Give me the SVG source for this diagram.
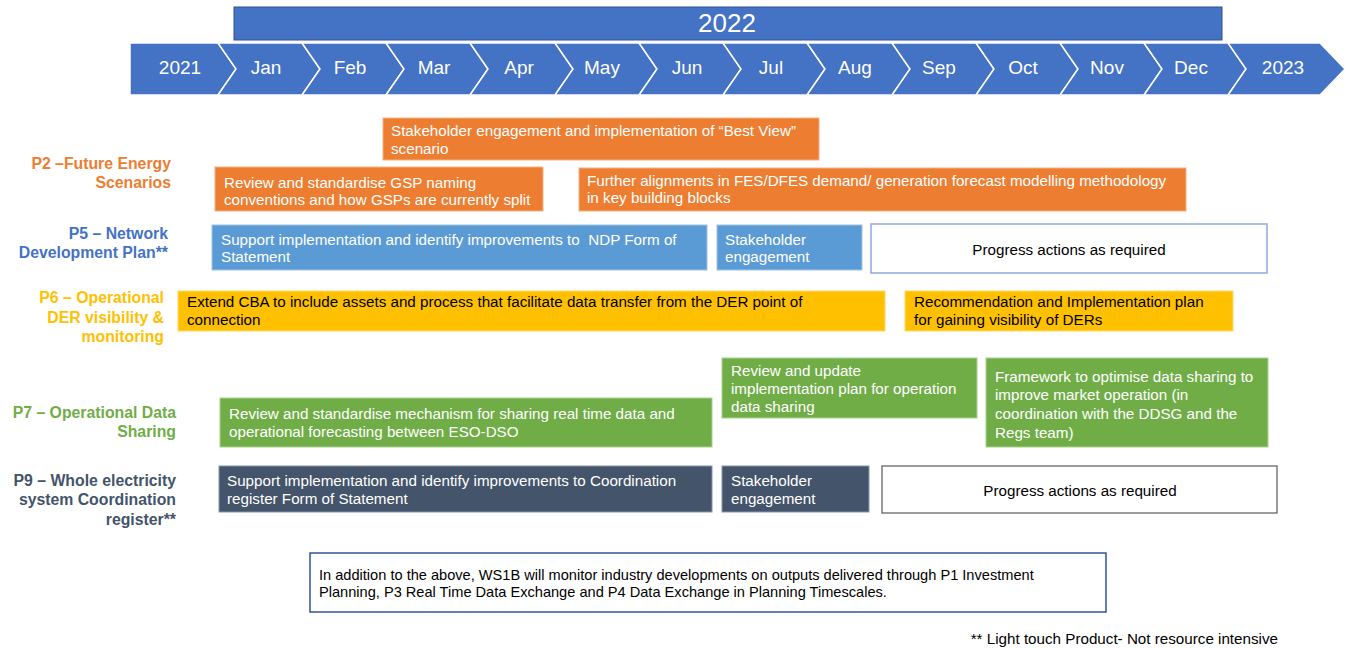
<svg xmlns="http://www.w3.org/2000/svg" width="1345" height="649" viewBox="0 0 1345 649">
<style>
.seg{fill:#4472C4;stroke:#ffffff;stroke-width:1.5}
.mon{font-family:"Liberation Sans",Arial,sans-serif;font-size:19px;fill:#ffffff;text-anchor:middle}
.lbl{font-family:"Liberation Sans",Arial,sans-serif;font-size:15.8px;font-weight:bold;text-anchor:end}
.t{font-family:"Liberation Sans",Arial,sans-serif;font-size:15.2px;fill:#ffffff}
.tk{font-family:"Liberation Sans",Arial,sans-serif;font-size:15.2px;fill:#000000}
.or{fill:#ED7D31;stroke:#F4B183;stroke-width:1}
.bl{fill:#5B9BD5;stroke:#9DC3E6;stroke-width:1}
.gd{fill:#FFC000;stroke:#FFD966;stroke-width:1}
.gr{fill:#70AD47;stroke:#A9D18E;stroke-width:1}
.dk{fill:#44546A;stroke:#8497B0;stroke-width:1}
</style>
<g id="year2022">
<rect x="234" y="7" width="988" height="33" fill="#4472C4" stroke="#2F528F" stroke-width="1"/>
<text x="727" y="32" font-family="Liberation Sans,Arial,sans-serif" font-size="26" fill="#ffffff" text-anchor="middle">2022</text>
</g>
<g id="timeline">
<polygon class="seg" points="130,43 218,43 236,69 218,95 130,95"/>
<polygon class="seg" points="218,43 302,43 320,69 302,95 218,95 236,69"/>
<polygon class="seg" points="302,43 386,43 404,69 386,95 302,95 320,69"/>
<polygon class="seg" points="386,43 470,43 488,69 470,95 386,95 404,69"/>
<polygon class="seg" points="470,43 555,43 573,69 555,95 470,95 488,69"/>
<polygon class="seg" points="555,43 639,43 657,69 639,95 555,95 573,69"/>
<polygon class="seg" points="639,43 723,43 741,69 723,95 639,95 657,69"/>
<polygon class="seg" points="723,43 807,43 825,69 807,95 723,95 741,69"/>
<polygon class="seg" points="807,43 892,43 910,69 892,95 807,95 825,69"/>
<polygon class="seg" points="892,43 976,43 994,69 976,95 892,95 910,69"/>
<polygon class="seg" points="976,43 1060,43 1078,69 1060,95 976,95 994,69"/>
<polygon class="seg" points="1060,43 1144,43 1162,69 1144,95 1060,95 1078,69"/>
<polygon class="seg" points="1144,43 1228,43 1246,69 1228,95 1144,95 1162,69"/>
<polygon class="seg" points="1228,43 1320,43 1345,69 1320,95 1228,95 1246,69"/>
<text class="mon" x="180" y="74">2021</text>
<text class="mon" x="266" y="74">Jan</text>
<text class="mon" x="350" y="74">Feb</text>
<text class="mon" x="434" y="74">Mar</text>
<text class="mon" x="519" y="74">Apr</text>
<text class="mon" x="602" y="74">May</text>
<text class="mon" x="687" y="74">Jun</text>
<text class="mon" x="771" y="74">Jul</text>
<text class="mon" x="855" y="74">Aug</text>
<text class="mon" x="939" y="74">Sep</text>
<text class="mon" x="1023" y="74">Oct</text>
<text class="mon" x="1107" y="74">Nov</text>
<text class="mon" x="1191" y="74">Dec</text>
<text class="mon" x="1283" y="74">2023</text>
</g>
<g id="labels">
<text class="lbl" fill="#ED7D31"><tspan x="171" y="169">P2 –Future Energy</tspan><tspan x="171" y="188">Scenarios</tspan></text>
<text class="lbl" fill="#4472C4"><tspan x="168" y="239">P5 – Network</tspan><tspan x="168" y="258">Development Plan**</tspan></text>
<text class="lbl" fill="#FFC000"><tspan x="164" y="303">P6 – Operational</tspan><tspan x="164" y="323">DER visibility &amp;</tspan><tspan x="164" y="342">monitoring</tspan></text>
<text class="lbl" fill="#70AD47"><tspan x="176" y="418">P7 – Operational Data</tspan><tspan x="176" y="437">Sharing</tspan></text>
<text class="lbl" fill="#44546A"><tspan x="176" y="486">P9 – Whole electricity</tspan><tspan x="176" y="505">system Coordination</tspan><tspan x="176" y="525">register**</tspan></text>
</g>
<g id="p2-best-view">
<rect class="or" x="383" y="118" width="436" height="42"/>
<text class="t"><tspan x="391" y="136">Stakeholder engagement and implementation of “Best View”</tspan><tspan x="391" y="154">scenario</tspan></text>
</g>
<g id="p2-gsp">
<rect class="or" x="215" y="167" width="328" height="44"/>
<text class="t"><tspan x="224" y="188">Review and standardise GSP naming</tspan><tspan x="224" y="205">conventions and how GSPs are currently split</tspan></text>
</g>
<g id="p2-fes">
<rect class="or" x="579" y="168" width="607" height="43"/>
<text class="t"><tspan x="587" y="186">Further alignments in FES/DFES demand/ generation forecast modelling methodology</tspan><tspan x="587" y="203">in key building blocks</tspan></text>
</g>
<g id="p5-ndp">
<rect class="bl" x="212" y="225" width="495" height="45"/>
<text class="t"><tspan x="221" y="245">Support implementation and identify improvements to&#160; NDP Form of</tspan><tspan x="221" y="262">Statement</tspan></text>
</g>
<g id="p5-stakeholder">
<rect class="bl" x="717" y="225" width="145" height="45"/>
<text class="t"><tspan x="725" y="245">Stakeholder</tspan><tspan x="725" y="262">engagement</tspan></text>
</g>
<g id="p5-progress">
<rect x="871" y="224" width="396" height="49" fill="#ffffff" stroke="#8FAADC" stroke-width="1.5"/>
<text class="tk" x="1069" y="255" text-anchor="middle">Progress actions as required</text>
</g>
<g id="p6-cba">
<rect class="gd" x="178" y="291" width="707" height="40"/>
<text class="tk"><tspan x="187" y="307">Extend CBA to include assets and process that facilitate data transfer from the DER point of</tspan><tspan x="187" y="325">connection</tspan></text>
</g>
<g id="p6-recommendation">
<rect class="gd" x="905" y="291" width="328" height="40"/>
<text class="tk"><tspan x="914" y="307">Recommendation and Implementation plan</tspan><tspan x="914" y="325">for gaining visibility of DERs</tspan></text>
</g>
<g id="p7-review">
<rect class="gr" x="220" y="398" width="492" height="49"/>
<text class="t"><tspan x="229" y="419">Review and standardise mechanism for sharing real time data and</tspan><tspan x="229" y="437">operational forecasting between ESO-DSO</tspan></text>
</g>
<g id="p7-update">
<rect class="gr" x="722" y="358" width="255" height="60"/>
<text class="t"><tspan x="731" y="376">Review and update</tspan><tspan x="731" y="394">implementation plan for operation</tspan><tspan x="731" y="412">data sharing</tspan></text>
</g>
<g id="p7-framework">
<rect class="gr" x="986" y="358" width="282" height="89"/>
<text class="t"><tspan x="995" y="382">Framework to optimise data sharing to</tspan><tspan x="995" y="400">improve market operation (in</tspan><tspan x="995" y="419">coordination with the DDSG and the</tspan><tspan x="995" y="438">Regs team)</tspan></text>
</g>
<g id="p9-register">
<rect class="dk" x="219" y="466" width="493" height="46"/>
<text class="t"><tspan x="227" y="486">Support implementation and identify improvements to Coordination</tspan><tspan x="227" y="504">register Form of Statement</tspan></text>
</g>
<g id="p9-stakeholder">
<rect class="dk" x="722" y="466" width="147" height="46"/>
<text class="t"><tspan x="731" y="486">Stakeholder</tspan><tspan x="731" y="504">engagement</tspan></text>
</g>
<g id="p9-progress">
<rect x="882" y="466" width="395" height="47" fill="#ffffff" stroke="#595959" stroke-width="1.2"/>
<text class="tk" x="1080" y="496" text-anchor="middle">Progress actions as required</text>
</g>
<g id="note">
<rect x="310" y="553" width="796" height="59" fill="#ffffff" stroke="#2F5597" stroke-width="1.5"/>
<text font-family="Liberation Sans,Arial,sans-serif" font-size="14.6" fill="#000000"><tspan x="319" y="580">In addition to the above, WS1B will monitor industry developments on outputs delivered through P1 Investment</tspan><tspan x="319" y="597">Planning, P3 Real Time Data Exchange and P4 Data Exchange in Planning Timescales.</tspan></text>
</g>
<g id="footnote">
<text x="1278" y="644" font-family="Liberation Sans,Arial,sans-serif" font-size="15.2" fill="#000000" text-anchor="end">** Light touch Product- Not resource intensive</text>
</g>
<g id="connectors"/>
</svg>
